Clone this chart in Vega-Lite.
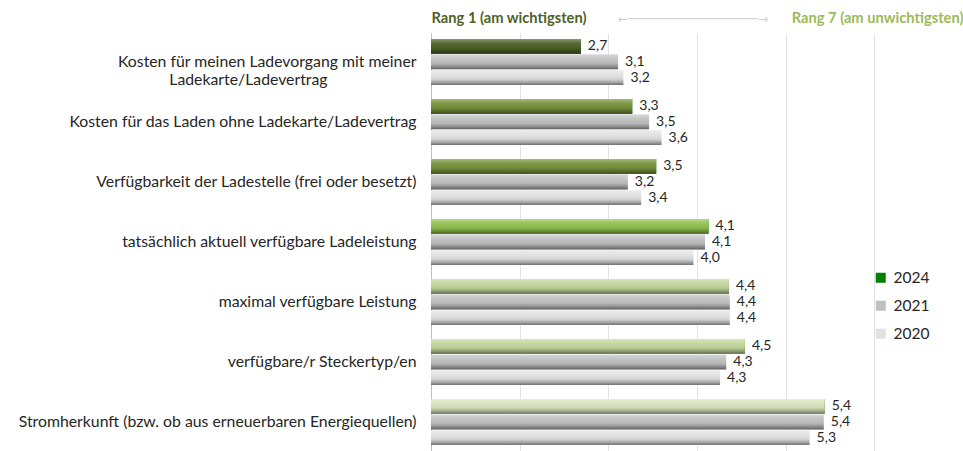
{
  "$schema": "https://vega.github.io/schema/vega-lite/v6.json",
  "width": 532,
  "height": 418,
  "autosize": {"type": "none"},
  "padding": {"left": 431, "top": 33, "right": 0, "bottom": 0},
  "background": "white",
  "config": {
    "view": {"stroke": null},
    "font": "Lato",
    "locale": {
      "number": {"decimal": ",", "thousands": ".", "grouping": [3], "currency": ["", " €"]}
    }
  },
  "data": {
    "values": [
      {"cat": "Kosten für meinen Ladevorgang mit meiner|Ladekarte/Ladevertrag", "year": "2024", "value": 2.69},
      {"cat": "Kosten für meinen Ladevorgang mit meiner|Ladekarte/Ladevertrag", "year": "2021", "value": 3.11},
      {"cat": "Kosten für meinen Ladevorgang mit meiner|Ladekarte/Ladevertrag", "year": "2020", "value": 3.17},
      {"cat": "Kosten für das Laden ohne Ladekarte/Ladevertrag", "year": "2024", "value": 3.27},
      {"cat": "Kosten für das Laden ohne Ladekarte/Ladevertrag", "year": "2021", "value": 3.46},
      {"cat": "Kosten für das Laden ohne Ladekarte/Ladevertrag", "year": "2020", "value": 3.6},
      {"cat": "Verfügbarkeit der Ladestelle (frei oder besetzt)", "year": "2024", "value": 3.54},
      {"cat": "Verfügbarkeit der Ladestelle (frei oder besetzt)", "year": "2021", "value": 3.22},
      {"cat": "Verfügbarkeit der Ladestelle (frei oder besetzt)", "year": "2020", "value": 3.37},
      {"cat": "tatsächlich aktuell verfügbare Ladeleistung", "year": "2024", "value": 4.13},
      {"cat": "tatsächlich aktuell verfügbare Ladeleistung", "year": "2021", "value": 4.09},
      {"cat": "tatsächlich aktuell verfügbare Ladeleistung", "year": "2020", "value": 3.96},
      {"cat": "maximal verfügbare Leistung", "year": "2024", "value": 4.36},
      {"cat": "maximal verfügbare Leistung", "year": "2021", "value": 4.37},
      {"cat": "maximal verfügbare Leistung", "year": "2020", "value": 4.37},
      {"cat": "verfügbare/r Steckertyp/en", "year": "2024", "value": 4.54},
      {"cat": "verfügbare/r Steckertyp/en", "year": "2021", "value": 4.33},
      {"cat": "verfügbare/r Steckertyp/en", "year": "2020", "value": 4.26},
      {"cat": "Stromherkunft (bzw. ob aus erneuerbaren Energiequellen)", "year": "2024", "value": 5.44},
      {"cat": "Stromherkunft (bzw. ob aus erneuerbaren Energiequellen)", "year": "2021", "value": 5.43},
      {"cat": "Stromherkunft (bzw. ob aus erneuerbaren Energiequellen)", "year": "2020", "value": 5.27}
    ]
  },
  "encoding": {
    "y": {
      "field": "cat",
      "type": "nominal",
      "sort": null,
      "scale": {"paddingInner": 0.235, "paddingOuter": 0.1},
      "axis": {
        "title": null,
        "orient": "left",
        "ticks": false,
        "grid": false,
        "domain": true,
        "domainColor": "#bfbfbf",
        "domainWidth": 1,
        "labelFont": "Lato",
        "labelFontSize": 15.8,
        "labelColor": "#262626",
        "labelPadding": 15,
        "labelAlign": "right",
        "labelLimit": 600,
        "labelLineHeight": 18.5,
        "labelExpr": "indexof(datum.label, '|') >= 0 ? [split(datum.label, '|')[0], split(datum.label, '|')[1] + '\u00a0\u00a0\u00a0\u00a0\u00a0\u00a0\u00a0\u00a0\u00a0\u00a0\u00a0\u00a0\u00a0\u00a0\u00a0\u00a0\u00a0\u00a0\u00a0\u00a0\u00a0\u00a0\u200b'] : datum.label"
      }
    },
    "yOffset": {
      "field": "year",
      "type": "nominal",
      "sort": ["2024", "2021", "2020"],
      "scale": {"paddingInner": 0.05, "paddingOuter": 0}
    },
    "x": {
      "field": "value",
      "type": "quantitative",
      "scale": {"domain": [1, 7], "nice": false, "zero": false},
      "axis": {
        "orient": "top",
        "title": null,
        "values": [1, 2, 3, 3.95, 4, 5, 6, 7],
        "ticks": false,
        "domain": false,
        "grid": true,
        "gridColor": "#e3e3e3",
        "gridOpacity": {"condition": {"test": "datum.value == 3.95 || datum.value == 7", "value": 0}, "value": 1},
        "labelOverlap": false,
        "labelFlush": true,
        "labelBound": false,
        "labelLimit": 0,
        "labelPadding": 8,
        "labelFontSize": {"condition": {"test": "datum.value == 3.95", "value": 12}, "value": 14.7},
        "labelFontWeight": {"condition": {"test": "datum.value == 3.95", "value": "normal"}, "value": "bold"},
        "labelFont": {"condition": {"test": "datum.value == 3.95", "value": "DejaVu Sans"}, "value": "Lato"},
        "labelColor": {"condition": [{"test": "datum.value == 1", "value": "#4f6228"}, {"test": "datum.value == 7", "value": "#9bbb59"}], "value": "#d0d0d0"},
        "labelExpr": "datum.value == 1 ? 'Rang 1 (am wichtigsten)' : datum.value == 7 ? 'Rang 7 (am unwichtigsten)' : datum.value == 3.95 ? '←──────────────────→' : ''"
      }
    }
  },
  "layer": [
    {
      "mark": {"type": "bar"},
      "encoding": {
        "x2": {"datum": 1},
        "fill": {
          "field": "year",
          "type": "nominal",
          "scale": {"domain": ["2024", "2021", "2020"], "range": ["#008000", "#c0c0c0", "#e2e2e2"]},
          "legend": {
            "title": null,
            "orient": "none",
            "legendX": 442,
            "legendY": 237,
            "symbolType": "square",
            "symbolSize": 100,
            "symbolStrokeWidth": 0,
            "labelFont": "Lato",
            "labelFontSize": 15.5,
            "labelColor": "#262626",
            "labelOffset": 5,
            "rowPadding": 11
          }
        }
      }
    },
    {
      "transform": [{"filter": "datum.year == '2024'"}],
      "mark": {"type": "bar"},
      "encoding": {
        "x2": {"datum": 1},
        "fill": {
          "field": "cat",
          "type": "nominal",
          "sort": null,
          "scale": {"range": ["#4f6228", "#77933c", "#77933c", "#92c04f", "#c3d69b", "#c3d69b", "#d7e4bd"]},
          "legend": null
        }
      }
    },
    {
      "mark": {
        "type": "bar",
        "fill": {
          "gradient": "linear",
          "x1": 0, "y1": 0, "x2": 0, "y2": 1,
          "stops": [
            {"offset": 0, "color": "rgba(255,255,255,0.35)"},
            {"offset": 0.3, "color": "rgba(255,255,255,0.05)"},
            {"offset": 0.6, "color": "rgba(0,0,0,0.05)"},
            {"offset": 0.85, "color": "rgba(0,0,0,0.3)"},
            {"offset": 1, "color": "rgba(0,0,0,0.5)"}
          ]
        }
      },
      "encoding": {"x2": {"datum": 1}}
    },
    {
      "mark": {"type": "text", "align": "left", "baseline": "middle", "dx": 7, "font": "Lato", "fontSize": 14, "color": "#262626"},
      "encoding": {
        "text": {"field": "value", "type": "quantitative", "format": ".1f"}
      }
    }
  ],
  "resolve": {"scale": {"fill": "independent"}}
}
